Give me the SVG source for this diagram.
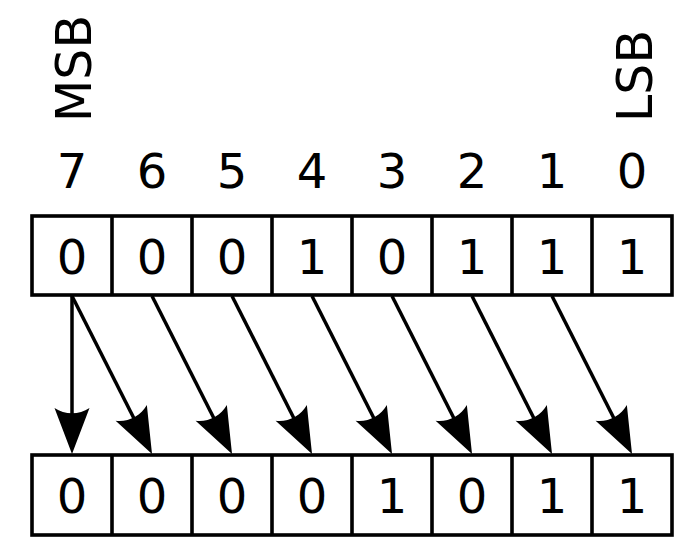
<svg xmlns="http://www.w3.org/2000/svg" width="700" height="560" viewBox="0 0 700 560">
<style>
.box{fill:#fff;stroke:#000;stroke-width:3.6}
.div{stroke:#000;stroke-width:3.6}
.t{font-family:"DejaVu Sans",sans-serif;font-size:48px;fill:#000;text-anchor:middle}
.lbl{font-family:"DejaVu Sans",sans-serif;font-size:49px;fill:#000}
.arr{stroke:#000;stroke-width:3.5;fill:none;marker-end:url(#ah)}
</style>
<defs>
<marker id="ah" markerUnits="userSpaceOnUse" markerWidth="60" markerHeight="40" refX="10" refY="20" orient="auto" overflow="visible">
<path d="M49,20 L3,2.5 C10,13 10,27 3,37.5 Z" fill="#000"/>
</marker>
</defs>
<rect width="700" height="560" fill="#fff"/>
<g id="labels">
<text class="lbl" transform="translate(91,122) rotate(-90)">MSB</text>
<text class="lbl" transform="translate(652,122) rotate(-90)">LSB</text>
<text class="t" x="72" y="188">7</text>
<text class="t" x="152" y="188">6</text>
<text class="t" x="232" y="188">5</text>
<text class="t" x="312" y="188">4</text>
<text class="t" x="392" y="188">3</text>
<text class="t" x="472" y="188">2</text>
<text class="t" x="552" y="188">1</text>
<text class="t" x="632" y="188">0</text>
</g>
<g id="input">
<rect class="box" x="32" y="216" width="640" height="79"/>
<path class="div" d="M112,216V295M192,216V295M272,216V295M352,216V295M432,216V295M512,216V295M592,216V295"/>
<text class="t" x="72" y="274">0</text>
<text class="t" x="152" y="274">0</text>
<text class="t" x="232" y="274">0</text>
<text class="t" x="312" y="274">1</text>
<text class="t" x="392" y="274">0</text>
<text class="t" x="472" y="274">1</text>
<text class="t" x="552" y="274">1</text>
<text class="t" x="632" y="274">1</text>
</g>
<g id="output">
<rect class="box" x="32" y="455" width="640" height="80"/>
<path class="div" d="M112,455V535M192,455V535M272,455V535M352,455V535M432,455V535M512,455V535M592,455V535"/>
<text class="t" x="72" y="513">0</text>
<text class="t" x="152" y="513">0</text>
<text class="t" x="232" y="513">0</text>
<text class="t" x="312" y="513">0</text>
<text class="t" x="392" y="513">1</text>
<text class="t" x="472" y="513">0</text>
<text class="t" x="552" y="513">1</text>
<text class="t" x="632" y="513">1</text>
</g>
<g id="connectors">
<line class="arr" x1="72" y1="296" x2="72" y2="415"/>
<line class="arr" x1="72" y1="296" x2="134.4" y2="419.2"/>
<line class="arr" x1="152" y1="296" x2="214.4" y2="419.2"/>
<line class="arr" x1="232" y1="296" x2="294.4" y2="419.2"/>
<line class="arr" x1="312" y1="296" x2="374.4" y2="419.2"/>
<line class="arr" x1="392" y1="296" x2="454.4" y2="419.2"/>
<line class="arr" x1="472" y1="296" x2="534.4" y2="419.2"/>
<line class="arr" x1="552" y1="296" x2="614.4" y2="419.2"/>
</g>
</svg>
